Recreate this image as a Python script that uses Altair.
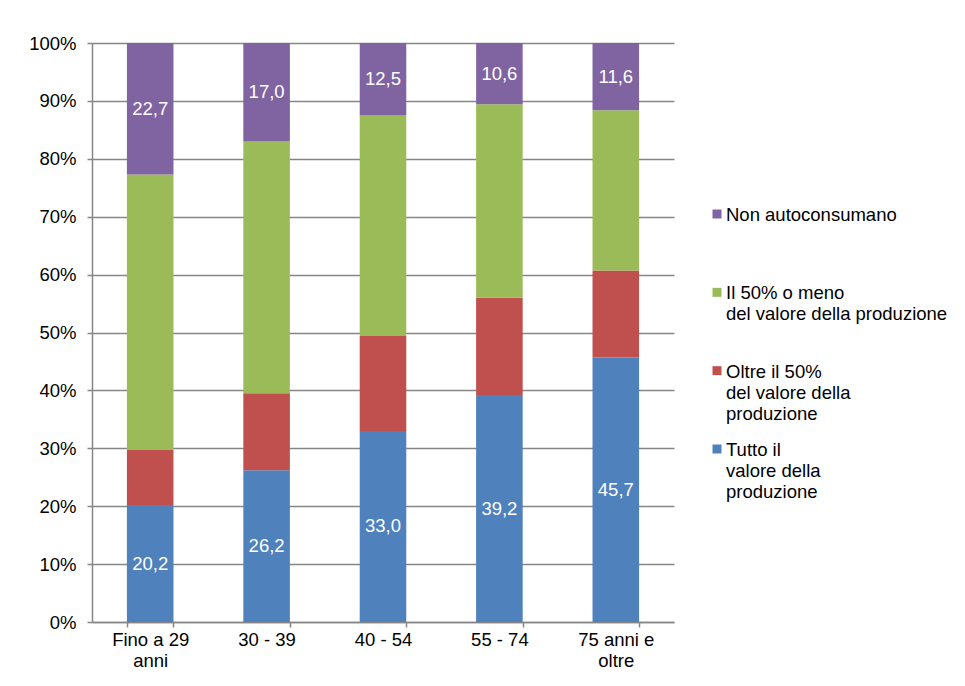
import altair as alt
import pandas as pd

categorie = ["Fino a 29|anni", "30 - 39", "40 - 54", "55 - 74", "75 anni e|oltre"]
serie = [
    "Tutto il valore della produzione",
    "Oltre il 50% del valore della produzione",
    "Il 50% o meno del valore della produzione",
    "Non autoconsumano",
]
etichette_legenda = [
    "Tutto il|valore della|produzione",
    "Oltre il 50%|del valore della|produzione",
    "Il 50% o meno|del valore della produzione",
    "Non autoconsumano",
]
colori = ["#4F81BD", "#C0504D", "#9BBB59", "#8064A2"]

tutto = [20.2, 26.2, 33.0, 39.2, 45.7]
oltre = [9.6, 13.3, 16.4, 16.8, 15.0]
meno = [47.5, 43.5, 38.1, 33.4, 27.7]
non_auto = [22.7, 17.0, 12.5, 10.6, 11.6]

valori = [tutto, oltre, meno, non_auto]
con_etichetta = [True, False, False, True]

rows = []
for k, (s, vals) in enumerate(zip(serie, valori)):
    for c, v in zip(categorie, vals):
        rows.append({
            "cat": c, "serie": s, "ord": k, "val": v,
            "lab": (f"{v:.1f}".replace(".", ",") if con_etichetta[k] else ""),
        })
df = pd.DataFrame(rows)

FONT = "Liberation Sans"
FS = 18.5
GRAY = "#868686"

color = alt.Color("serie:N", scale=alt.Scale(domain=serie, range=colori), legend=None)

x_enc = alt.X(
    "cat:N", sort=categorie,
    scale=alt.Scale(paddingInner=0.6, paddingOuter=0.3),
    axis=alt.Axis(
        title=None, labelAngle=0, labelExpr="split(datum.label, '|')",
        labelLineHeight=21, tickBand="extent", tickSize=5, tickColor=GRAY,
        domainColor=GRAY, domainWidth=1.5, tickWidth=1.5, labelPadding=3, grid=False,
        labelFontSize=FS, labelColor="black", labelFont=FONT, labelLimit=300,
    ),
)

base = alt.Chart(df).transform_stack(
    stack="val", groupby=["cat"], as_=["y0", "y1"], offset="normalize",
    sort=[alt.SortField("ord", order="ascending")],
).transform_calculate(ym="(datum.y0 + datum.y1) / 2")

bars = base.mark_bar().encode(
    x=x_enc,
    y=alt.Y(
        "y0:Q", scale=alt.Scale(domain=[0, 1]),
        axis=alt.Axis(
            title=None, format=".0%", values=[i / 10 for i in range(11)],
            tickSize=5, tickColor=GRAY, tickWidth=1.5, labelPadding=11,
            gridColor=GRAY, gridWidth=1.5, domainColor=GRAY, domainWidth=1.5,
            labelFontSize=FS, labelColor="black", labelFont=FONT,
        ),
    ),
    y2="y1:Q",
    color=color,
)

text = base.transform_filter("datum.lab != ''").mark_text(
    color="white", fontSize=FS, font=FONT
).encode(
    x=alt.X("cat:N", sort=categorie),
    y=alt.Y("ym:Q"),
    text="lab:N",
)

main = alt.layer(bars, text).properties(width=582, height=579)

leg_df = pd.DataFrame({"serie": serie[::-1], "label": etichette_legenda[::-1]})
y_leg = alt.Y(
    "serie:N", sort=serie[::-1],
    scale=alt.Scale(type="point", range=[171, 406], padding=0), axis=None,
)
squares = alt.Chart(leg_df).mark_square(size=81, opacity=1).encode(
    x=alt.value(5), y=y_leg, color=color,
)
labels = alt.Chart(leg_df).mark_text(
    align="left", baseline="top", dy=-8, lineBreak="|", fontSize=FS,
    lineHeight=21, color="black", font=FONT,
).encode(x=alt.value(14), y=y_leg, text="label:N")

legend = alt.layer(squares, labels).properties(width=240, height=579)

chart = alt.hconcat(main, legend, spacing=38).resolve_scale(
    y="independent"
).properties(
    padding={"left": 20, "top": 26, "right": 5, "bottom": 5}
).configure(font=FONT).configure_view(stroke=None)

chart.save("out.html", embed_options={"renderer": "svg", "actions": False})
